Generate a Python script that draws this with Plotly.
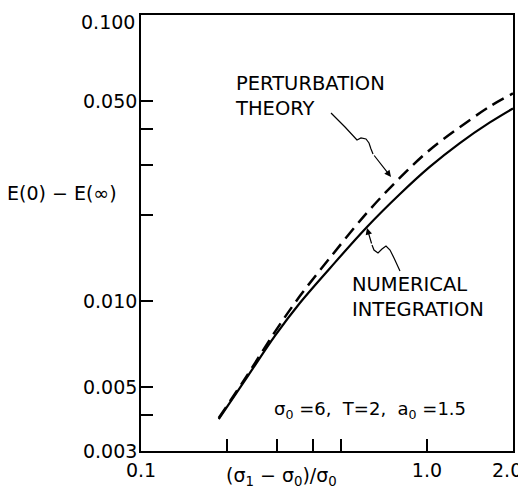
import plotly.graph_objects as go

# ---- data ----
x_vals = [0.187, 0.237, 0.294, 0.360, 0.458, 0.617, 0.805, 1.02, 1.30, 1.66, 2.0]
numerical = [0.00388, 0.00550, 0.00757, 0.00988, 0.01305, 0.01818,
             0.02370, 0.02941, 0.03562, 0.04214, 0.04717]
perturbation = [0.00391, 0.00558, 0.00782, 0.01045, 0.01419, 0.02038,
                0.02702, 0.03371, 0.04050, 0.04793, 0.05323]

x_tickvals = [0.1, 0.2, 0.3, 0.4, 0.5, 1.0, 2.0]
x_ticktext = ["0.1", "", "", "", "", "1.0", ""]
y_tickvals = [0.003, 0.004, 0.005, 0.01, 0.02, 0.03, 0.04, 0.05, 0.1]
y_ticktext = ["0.003", "", "0.005", "0.010", "", "", "", "0.050", ""]

FONT = "DejaVu Sans"
OFF = 8                      # default page (body) margin
W, H = 526 - OFF, 497 - OFF
# plot area in page pixels: left 141, top 15, right 513, bottom 451
L, T = 141 - OFF, 15 - OFF
R, B = (OFF + W) - 513, (OFF + H) - 451
PW, PH = W - L - R, H - T - B


def px(xp, yp):
    """page pixel position -> paper coordinates"""
    return (xp - OFF - L) / PW, (H - B - (yp - OFF)) / PH


fig = go.Figure()
fig.add_trace(go.Scatter(x=x_vals, y=perturbation, mode="lines",
                         line=dict(color="black", width=2.5, dash="13px,7px", shape="spline"),
                         name="Perturbation theory"))
fig.add_trace(go.Scatter(x=x_vals, y=numerical, mode="lines",
                         line=dict(color="black", width=2.2, shape="spline"),
                         name="Numerical integration"))

shapes = []


def squiggle(points):
    pts = [px(a, b) for a, b in points]
    d = "M " + " L ".join(f"{a:.4f},{b:.4f}" for a, b in pts)
    return dict(type="path", xref="paper", yref="paper", path=d,
                line=dict(color="black", width=1.2))


shapes.append(squiggle([(331, 113), (345, 127), (357, 140), (361, 138), (366, 139),
                        (369, 143), (371, 149), (373, 154)]))
shapes.append(squiggle([(372, 245), (374, 250), (378, 253), (382, 249), (386, 246),
                        (390, 250), (394, 258), (400, 271)]))

annotations = []
# arrow heads
tx, ty = px(391, 177)
annotations.append(dict(x=tx, y=ty, xref="paper", yref="paper", text="", showarrow=True,
                        ax=-18, ay=-23, arrowhead=2, arrowsize=1.1, arrowwidth=1.2,
                        arrowcolor="black"))
tx, ty = px(367, 228)
annotations.append(dict(x=tx, y=ty, xref="paper", yref="paper", text="", showarrow=True,
                        ax=5, ay=17, arrowhead=2, arrowsize=1.1, arrowwidth=1.2,
                        arrowcolor="black"))


def label(text, xp, yp, size=18, xanchor="left", yanchor="middle", align="left"):
    a, b = px(xp, yp)
    annotations.append(dict(x=a, y=b, xref="paper", yref="paper", text=text,
                            showarrow=False, xanchor=xanchor, yanchor=yanchor, align=align,
                            font=dict(family=FONT, size=size, color="black")))


label("PERTURBATION<br>THEORY", 233, 96, size=19.5)
label("NUMERICAL<br>INTEGRATION", 350, 297, size=19.5)
label("σ<sub>0</sub> =6,  T=2,  a<sub>0</sub> =1.5", 272, 410, size=18)
label("E(0) − E(∞)", 62, 193, size=19, xanchor="center")
label("(σ<sub>1</sub> − σ<sub>0</sub>)/σ<sub>0</sub>", 281, 476, size=19, xanchor="center")
label("2.0", 507, 470, size=19, xanchor="center")
label("0.100", 137, 8.5, size=19, xanchor="right", yanchor="top")

fig.update_layout(
    width=W, height=H,
    margin=dict(l=L, r=R, t=T, b=B, autoexpand=False),
    paper_bgcolor="white", plot_bgcolor="white",
    showlegend=False,
    shapes=shapes, annotations=annotations,
    font=dict(family=FONT, size=19, color="black"),
)
fig.update_xaxes(type="log", range=[-1, 0.30103], automargin=False,
                 tickvals=x_tickvals, ticktext=x_ticktext,
                 ticks="inside", ticklen=12, tickwidth=1.5, tickcolor="black",
                 ticklabeloverflow="allow", ticklabelstandoff=1,
                 showline=True, linecolor="black", linewidth=1.6, mirror=True,
                 showgrid=False, zeroline=False,
                 tickfont=dict(family=FONT, size=19, color="black"))
fig.update_yaxes(type="log", range=[-2.522879, -1], automargin=False,
                 tickvals=y_tickvals, ticktext=y_ticktext,
                 ticks="inside", ticklen=12, tickwidth=1.5, tickcolor="black",
                 ticklabeloverflow="allow", ticklabelstandoff=-2,
                 showline=True, linecolor="black", linewidth=1.6, mirror=True,
                 showgrid=False, zeroline=False,
                 tickfont=dict(family=FONT, size=19, color="black"))

fig.write_html("out.html")
